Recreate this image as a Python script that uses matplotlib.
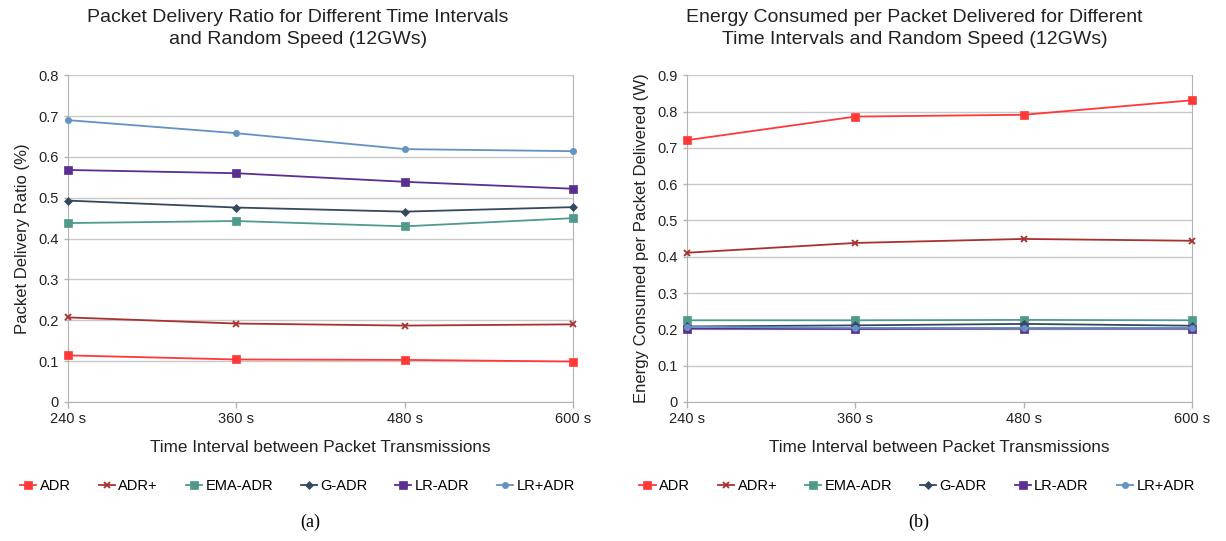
import matplotlib
matplotlib.use("Agg")
import matplotlib.pyplot as plt

plt.rcParams['font.family'] = ['Liberation Sans', 'DejaVu Sans']

intervals = ["240 s", "360 s", "480 s", "600 s"]
series_names = ["ADR", "ADR+", "EMA-ADR", "G-ADR", "LR-ADR", "LR+ADR"]

pdr_adr = [0.114, 0.104, 0.103, 0.099]
pdr_adrplus = [0.207, 0.192, 0.187, 0.190]
pdr_ema = [0.438, 0.443, 0.430, 0.450]
pdr_gadr = [0.493, 0.476, 0.466, 0.477]
pdr_lradr = [0.568, 0.560, 0.539, 0.522]
pdr_lrplus = [0.690, 0.658, 0.619, 0.614]

en_adr = [0.721, 0.786, 0.791, 0.831]
en_adrplus = [0.411, 0.438, 0.449, 0.444]
en_ema = [0.225, 0.225, 0.226, 0.225]
en_gadr = [0.208, 0.211, 0.215, 0.210]
en_lradr = [0.202, 0.201, 0.202, 0.202]
en_lrplus = [0.207, 0.204, 0.204, 0.204]

colors = ["#ff3838", "#a8312f", "#4f9a8b", "#34495e", "#5b2e91", "#6392c4"]
markers = ["s", "x", "s", "D", "s", "o"]
msizes = [5.5, 5, 5.5, 4, 5.5, 4.5]

pdr_data = [pdr_adr, pdr_adrplus, pdr_ema, pdr_gadr, pdr_lradr, pdr_lrplus]
en_data = [en_adr, en_adrplus, en_ema, en_gadr, en_lradr, en_lrplus]

fig = plt.figure(figsize=(12.26, 5.41), dpi=100)
ax1 = fig.add_axes([0.0555, 0.257, 0.412, 0.604])
ax2 = fig.add_axes([0.5604, 0.257, 0.412, 0.604])

def style(ax, ymax, ylabel, title, xc):
    x = list(range(len(intervals)))
    ax.set_xlim(0, len(intervals) - 1)
    ax.set_ylim(0, ymax)
    ax.set_xticks(x)
    ax.set_xticklabels(intervals, fontsize=10.5)
    ticks = [i / 10 for i in range(int(round(ymax * 10)) + 1)]
    ax.set_yticks(ticks)
    ax.set_yticklabels(["0" if t == 0 else f"{t:.1f}" for t in ticks], fontsize=10.5)
    ax.yaxis.grid(True, color="#c8c8c8", linewidth=1)
    ax.set_axisbelow(True)
    for s in ["left", "right", "bottom"]:
        ax.spines[s].set_color("#b3b3b3")
    ax.spines["top"].set_visible(False)
    ax.tick_params(axis="both", colors="#b3b3b3", labelcolor="#222222", length=4, width=1)
    ax.tick_params(axis="y", length=3)
    ax.set_xlabel("Time Interval between Packet Transmissions", fontsize=12.3, labelpad=10, color="#222222")
    ax.set_ylabel(ylabel, fontsize=12, color="#222222", labelpad=6)
    fig.text(xc, 0.947, title, ha="center", va="center", fontsize=14, color="#222222", linespacing=1.4)

legend_centers = [0.243, 0.748]
for ax, data, lc in [(ax1, pdr_data, legend_centers[0]), (ax2, en_data, legend_centers[1])]:
    x = list(range(len(intervals)))
    handles = []
    for name, vals, c, m, ms in zip(series_names, data, colors, markers, msizes):
        h, = ax.plot(x, vals, color=c, marker=m, markersize=ms, linewidth=1.3,
                     markeredgewidth=1.3 if m == "x" else 0.5, label=name, clip_on=False, zorder=3)
        handles.append(h)
    fig.legend(handles=handles, loc="center", bbox_to_anchor=(lc, 0.1017), ncol=6, frameon=False,
               fontsize=10.5, handlelength=1.1, handletextpad=0.25, columnspacing=1.9)

style(ax1, 0.8, "Packet Delivery Ratio (%)",
      "Packet Delivery Ratio for Different Time Intervals\nand Random Speed (12GWs)", 0.243)
style(ax2, 0.9, "Energy Consumed per Packet Delivered (W)",
      "Energy Consumed per Packet Delivered for Different\nTime Intervals and Random Speed (12GWs)", 0.746)

fig.text(0.253, 0.035, "(a)", ha="center", va="center", fontsize=13, family=["Liberation Serif", "DejaVu Serif"])
fig.text(0.749, 0.035, "(b)", ha="center", va="center", fontsize=13, family=["Liberation Serif", "DejaVu Serif"])

fig.savefig("out.png", dpi=100)
